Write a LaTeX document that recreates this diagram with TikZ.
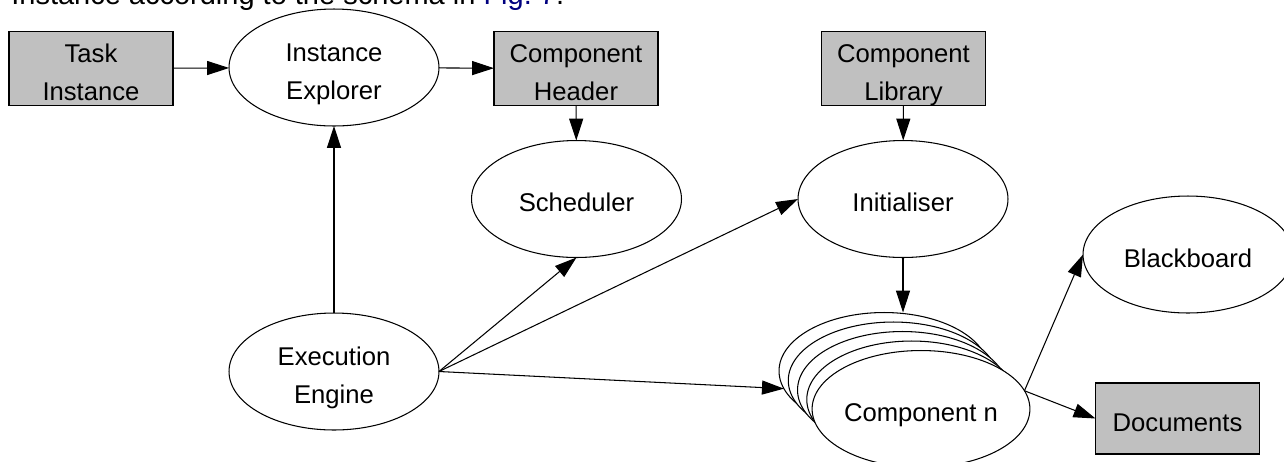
\documentclass[tikz,border=0pt]{standalone}
\usepackage{fontspec}
\setmainfont{Liberation Sans}
\usepackage{tikz}
\usetikzlibrary{arrows.meta, calc, positioning, shapes}
\usepackage{xcolor}
\definecolor{figblue}{HTML}{00007F}
\definecolor{boxgray}{HTML}{C0C0C0}

\begin{document}
\begin{tikzpicture}[% styles used in image code
   x = 0.02cm, y = -0.02cm, % one unit is one pixel of the page
   > = {Triangle[length=12.5pt, width=8pt]}, % defined in "arrows.meta"
txt/.style = {font=\fontsize{14.6}{21.5}\selectfont, align=center},
one/.style = {text height=17.5pt, text depth=3pt}, % one line of text
two/.style = {text height=39.5pt, text depth=3pt}, % two lines of text
box/.style = {txt, draw, fill=boxgray, line width=0.6pt,
              minimum width=3.28cm, minimum height=1.42cm,
              inner sep=0pt, outer sep=0pt},
ell/.style = {txt, draw, fill=white, ellipse, line width=0.6pt,
              minimum width=4.2cm, minimum height=2.34cm,
              inner sep=0pt, outer sep=0pt},
link/.style = {->, line width=0.6pt}
                    ]
	\useasboundingbox (0,0) rectangle (1284,461);
	\clip (0,0) rectangle (1284,461);

	% line of the text above
	\node[anchor=base west, inner sep=0pt, font=\fontsize{16.5}{20}\selectfont]
	     (caption) at (11,4) {Instance according to the schema in \textcolor{figblue}{Fig.~7}.};

	% top row
	\node[box, two] (ti) at (91,68.5)    {Task\\Instance};
	\node[ell, two] (ie) at (334,67.5)   {Instance\\Explorer};
	\node[box, two] (ch) at (576,68.5)   {Component\\Header};
	\node[box, two] (cl) at (903.5,68.5) {Component\\Library};

	% middle row
	\node[ell, one] (sched) at (576.5,199)  {Scheduler};
	\node[ell, one] (init)  at (903,199)    {Initialiser};
	\node[ell, one] (bb)    at (1188,254.5) {Blackboard};

	% bottom row
	\node[ell, two] (ee) at (334,371.5) {Execution\\Engine};
	\foreach \i in {1,...,4}
		\node[ell] (cn\i) at ({884+(\i-1)*9.25},{371+(\i-1)*9.5}) {};
	\node[ell, one] (cn5) at (921,409) {Component n};
	\node[box, one] (docs) at (1177.5,418.5) {Documents};

	% connectors
	\draw[link] (ti) -- (ie);
	\draw[link] (ie) -- (ch);
	\draw[link] (ch) -- (sched);
	\draw[link] (cl) -- (init);
	\draw[link] (ee) -- (ie);
	\draw[link] (ee.east) -- (sched.south);
	\draw[link] (ee.east) -- (init.west);
	\draw[link] (ee.east) -- (cn1.190);
	\draw[link] (init.south) -- (init.south |- cn1.north);
	\draw[link] (cn5.10) -- (bb.west);
	\draw[link] (cn5.10) -- (docs.west);
\end{tikzpicture}
\end{document}
